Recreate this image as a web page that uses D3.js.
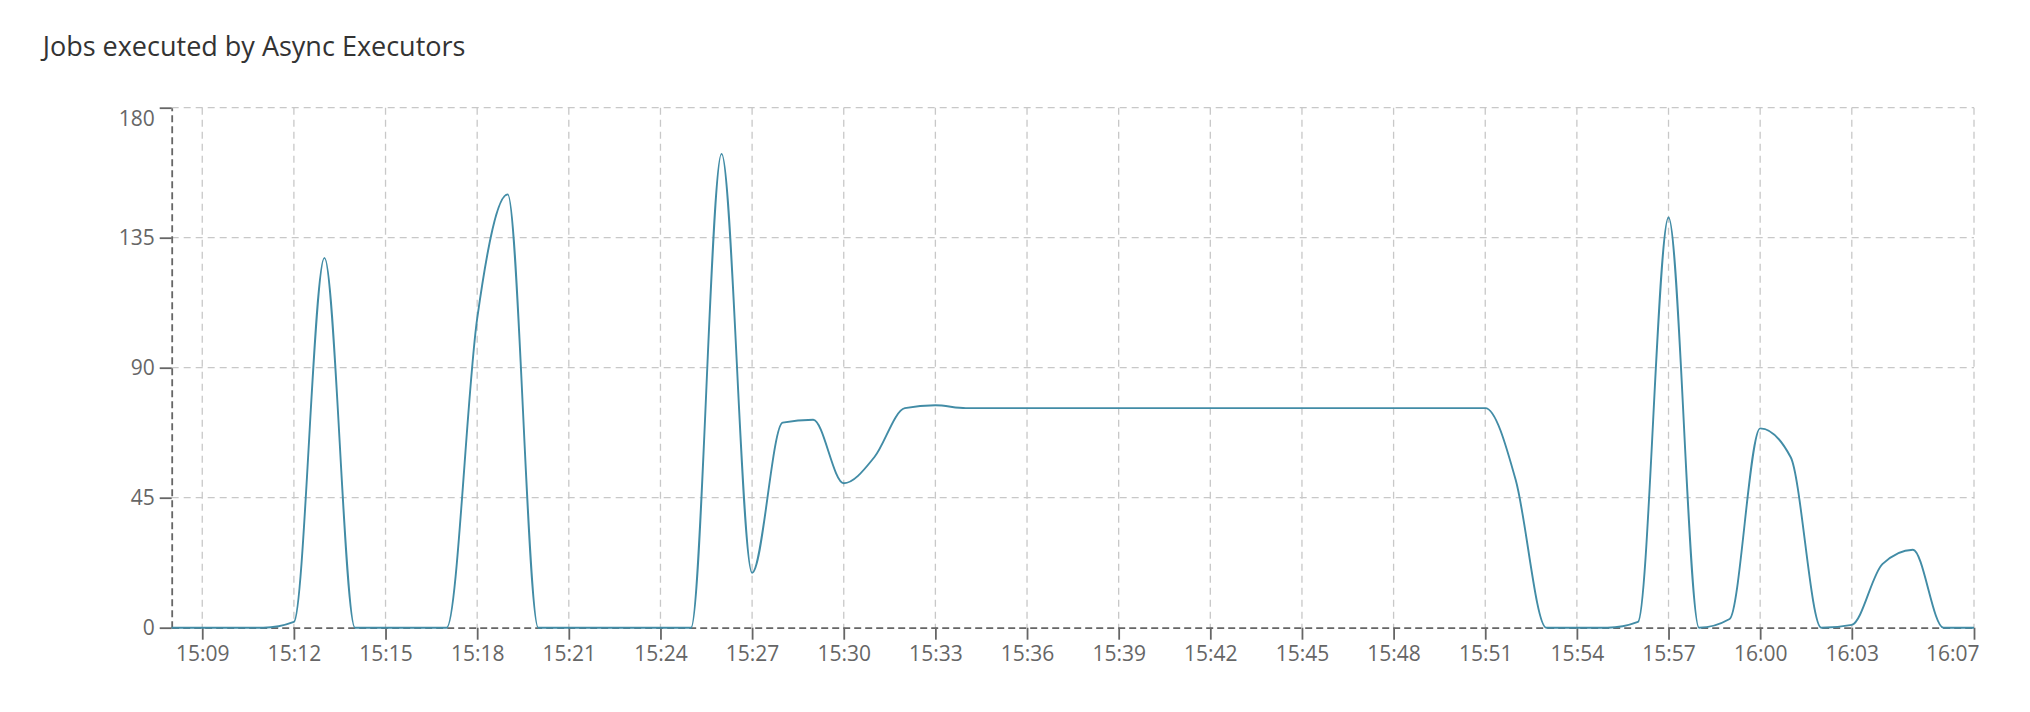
<!DOCTYPE html>
<html>
<head>
<meta charset="utf-8">
<script src="https://cdn.jsdelivr.net/npm/d3@7"></script>
<style>
  html, body { margin: 0; padding: 0; background: #fff; }
  svg { display: block; font-family: "Open Sans", "Noto Sans", sans-serif; }
</style>
</head>
<body>
<svg id="chart" width="2030" height="712"></svg>
<script>
// ---- data ----
const chartTitle = "Jobs executed by Async Executors";
const startTime = "15:08";
const endTime = "16:07";
// one value per minute, 15:08 .. 16:07
const jobsPerMinute = [
  0, 0, 0, 0, 2, 128, 0, 0, 0, 0,          // 15:08 - 15:17
  107, 150, 0, 0, 0, 0, 0, 0, 164, 19,     // 15:18 - 15:27
  71, 72, 50, 59, 76, 77, 76, 76, 76, 76,  // 15:28 - 15:37
  76, 76, 76, 76, 76, 76, 76, 76, 76, 76,  // 15:38 - 15:47
  76, 76, 76, 76, 51, 0, 0, 0, 2, 142,     // 15:48 - 15:57
  0, 3, 69, 59, 0, 1, 22, 27, 0, 0         // 15:58 - 16:07
];
const xTickLabels = ["15:09","15:12","15:15","15:18","15:21","15:24","15:27","15:30",
  "15:33","15:36","15:39","15:42","15:45","15:48","15:51","15:54","15:57","16:00","16:03","16:07"];
const yTickValues = [0, 45, 90, 135, 180];

// ---- helpers ----
const parseHM = s => { const [h, m] = s.split(":").map(Number); return new Date(2024, 0, 1, h, m); };
const t0 = parseHM(startTime);
const data = jobsPerMinute.map((v, i) => ({ t: new Date(t0.getTime() + i * 60000), v }));

// ---- layout ----
const svg = d3.select("#chart");
const plotLeft = 171.7, plotRight = 1974, plotTop = 107.7, plotBottom = 627.7;

const x = d3.scaleTime().domain([t0, parseHM(endTime)]).range([plotLeft, plotRight]);
const y = d3.scaleLinear().domain([0, 180]).range([plotBottom, plotTop]);
const xTicks = xTickLabels.map(parseHM);

// title
svg.append("text")
  .attr("x", 42.7).attr("y", 56)
  .attr("font-size", 27).attr("fill", "#333")
  .text(chartTitle);

// grid
const grid = svg.append("g").attr("stroke", "#c8c8c8").attr("stroke-width", 1.3)
  .attr("stroke-dasharray", "7,5").attr("fill", "none");
grid.selectAll("line.v").data(xTicks).join("line").attr("class", "v")
  .attr("x1", d => x(d)).attr("x2", d => x(d)).attr("y1", plotTop).attr("y2", plotBottom);
grid.selectAll("line.h").data(yTickValues.filter(v => v > 0)).join("line").attr("class", "h")
  .attr("x1", plotLeft).attr("x2", plotRight).attr("y1", d => y(d)).attr("y2", d => y(d));

// axes
const fmt = d3.timeFormat("%H:%M");
const xAxis = svg.append("g").attr("transform", `translate(0,${plotBottom})`)
  .call(d3.axisBottom(x).tickValues(xTicks).tickFormat(fmt).tickSize(12).tickSizeOuter(0).tickPadding(6));
const yAxis = svg.append("g").attr("transform", `translate(${plotLeft},0)`)
  .call(d3.axisLeft(y).tickValues(yTickValues).tickSize(12).tickSizeOuter(0).tickPadding(5));

[xAxis, yAxis].forEach(g => {
  g.attr("font-family", null).attr("font-size", null);
  g.select(".domain").attr("stroke", "#666").attr("stroke-width", 1.8).attr("stroke-dasharray", "7,4");
  g.selectAll(".tick line").attr("stroke", "#666").attr("stroke-width", 1.8);
  g.selectAll(".tick text").attr("fill", "#666").attr("font-size", 21)
    .attr("font-family", "'Open Sans', 'Noto Sans', sans-serif");
});
// edge labels kept inside the plot bounds
xAxis.selectAll(".tick text").filter((d, i, n) => i === n.length - 1)
  .attr("text-anchor", "end").attr("x", 5);
yAxis.selectAll(".tick text").filter((d, i, n) => i === n.length - 1)
  .attr("y", 11);

// line
const line = d3.line().x(d => x(d.t)).y(d => y(d.v)).curve(d3.curveMonotoneX);
svg.append("path").datum(data)
  .attr("fill", "none").attr("stroke", "#428ca6").attr("stroke-width", 1.9)
  .attr("d", line);
</script>
</body>
</html>
